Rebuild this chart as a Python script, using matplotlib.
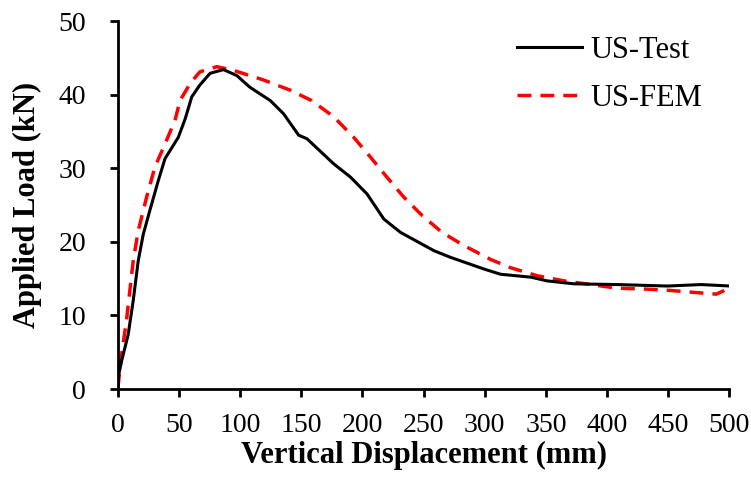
import matplotlib
matplotlib.use('Agg')
import matplotlib.pyplot as plt
import numpy as np

plt.rcParams['font.family'] = 'Liberation Serif'

# measured load-displacement curves
test_disp = [0, 0.1, 3, 8.4, 12.5, 16.6, 20.7, 26, 33, 38.5, 49.4, 55, 60.4, 67, 75.4, 86.3,
             97.2, 108, 124.6, 135.5, 147.8, 154.7, 176.5, 190.2, 203.8, 217.5, 231, 258.5,
             272, 299.6, 313, 338, 351, 373, 408.5, 449.5, 477, 501]
test_load = [0.5, 1.5, 3.8, 7.4, 12, 17.4, 21, 24.2, 28.3, 31.3, 34.2, 36.7, 39.7, 41.3, 42.9, 43.4,
             42.6, 41, 39.2, 37.4, 34.5, 34, 30.6, 28.8, 26.5, 23.1, 21.3, 18.8,
             17.9, 16.3, 15.6, 15.2, 14.7, 14.3, 14.2, 14.0, 14.2, 14.0]

fem_disp = [0, 3, 7, 12.5, 16.6, 23.5, 30.3, 38.5, 46.7, 50.8, 59, 67, 80.8, 94.5, 119, 141,
            158.4, 176.5, 192.9, 206.6, 220, 233.7, 248.7, 265, 283, 305, 321, 343, 365, 387,
            408.5, 430, 452, 474, 489.5, 496]
fem_load = [0.2, 4.7, 9.3, 17.4, 21.5, 26.1, 30.2, 33.3, 36.5, 39.2, 41.5, 43.1, 43.8, 43.3, 42, 40.6,
            39.2, 37, 34.2, 31.5, 28.8, 26.1, 23.6, 21.3, 19.5, 17.6, 16.5, 15.4, 14.7, 14.2,
            13.7, 13.6, 13.4, 13.1, 12.9, 13.4]

fig = plt.figure(figsize=(7.51, 4.78), dpi=100)
ax = fig.add_axes([0.157, 0.186, 0.814, 0.770])

ax.plot(test_disp, test_load, color='black', lw=2.2, label='US-Test', zorder=3)
ax.plot(fem_disp, fem_load, color='#ff0000', lw=2.5, ls=(0, (4, 2.6)), label='US-FEM', zorder=2)

ax.set_xlim(0, 500)
ax.set_ylim(0, 50)
ax.set_xticks(np.arange(0, 501, 50))
ax.set_yticks(np.arange(0, 51, 10))

for s in ['top', 'right']:
    ax.spines[s].set_visible(False)
for s in ['left', 'bottom']:
    ax.spines[s].set_linewidth(2)
ax.tick_params(direction='out', length=6, width=2, labelsize=20)
ax.tick_params(axis='x', pad=11)
ax.tick_params(axis='y', pad=17)

ax.set_xlabel('Vertical Displacement (mm)', fontsize=22, fontweight='bold', labelpad=2)
ax.set_ylabel('Applied Load (kN)', fontsize=22, fontweight='bold', labelpad=12)

ax.legend(loc='upper right', bbox_to_anchor=(1.0, 1.035), frameon=False, fontsize=22,
          handlelength=2.13, handletextpad=0.26, labelspacing=0.62)

plt.savefig('out.png', dpi=100, facecolor='white')
plt.close()
